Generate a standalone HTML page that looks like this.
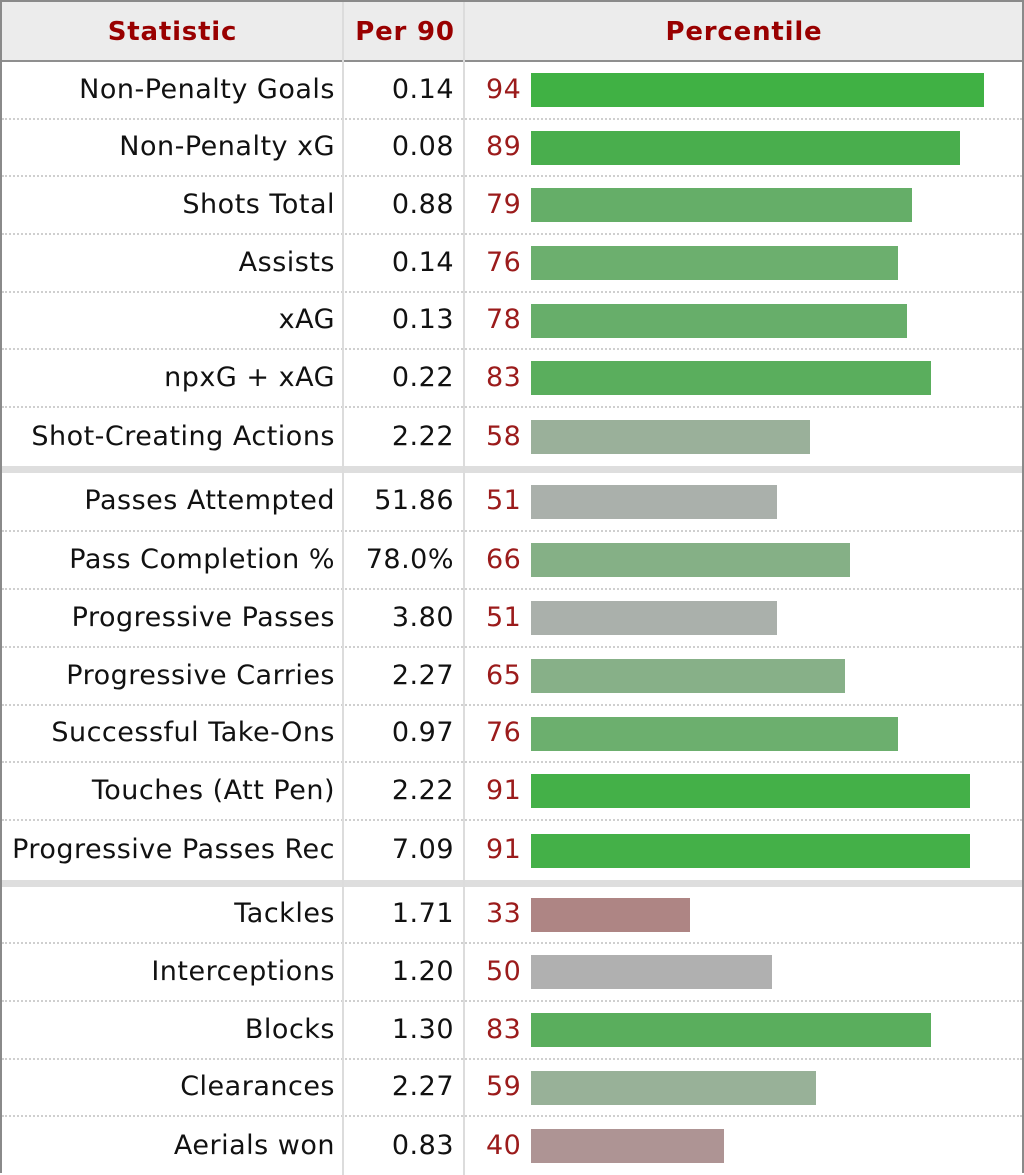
<!DOCTYPE html>
<html><head><meta charset="utf-8"><style>
*{margin:0;padding:0;box-sizing:border-box}
body{width:1024px;height:1173px;background:#fff;font-family:"DejaVu Sans",Verdana,sans-serif;overflow:hidden}
.wrap{position:absolute;left:0;top:0;width:1024px;height:1173px;border:2px solid #8a8a8a;border-bottom:none}
.hdr{position:absolute;left:0;top:0;width:1020px;height:60px;background:#ececec;border-bottom:2px solid #8f8f8f;color:#990000;font-weight:bold;font-size:26px;letter-spacing:0.8px}
.hdr div{position:absolute;top:0;height:58px;line-height:60px;text-align:center}
.vl{position:absolute;top:0;width:2px;height:1173px;background:#dcdcdc}
.row{position:absolute;left:0;width:1020px;border-bottom:2px dotted #cfcfcf;font-size:27px;color:#111;letter-spacing:0.5px}
.row .s{position:absolute;right:687px;top:-1px;height:100%;display:flex;align-items:center;white-space:nowrap}
.row .p{position:absolute;right:568px;top:-1px;height:100%;display:flex;align-items:center}
.row .n{position:absolute;left:484px;top:-1px;height:100%;display:flex;align-items:center;color:#9b1b1b}
.row .b{position:absolute;left:529px;height:34px;top:50%;margin-top:-17px}
.sep{position:absolute;left:0;width:1020px;height:7px;background:#dedede}
</style></head><body>
<div class="wrap">
<div class="hdr"><div style="left:0;width:341px">Statistic</div><div style="left:343px;width:120px">Per 90</div><div style="left:464px;width:556px">Percentile</div></div>

<div class="row" style="top:60px;height:58px"><span class="s">Non-Penalty Goals</span><span class="p">0.14</span><span class="n">94</span><div class="b" style="width:453px;background:#40b144"></div></div>
<div class="row" style="top:118px;height:57px"><span class="s">Non-Penalty xG</span><span class="p">0.08</span><span class="n">89</span><div class="b" style="width:429px;background:#49ae4d"></div></div>
<div class="row" style="top:175px;height:58px"><span class="s">Shots Total</span><span class="p">0.88</span><span class="n">79</span><div class="b" style="width:381px;background:#65ae68"></div></div>
<div class="row" style="top:233px;height:58px"><span class="s">Assists</span><span class="p">0.14</span><span class="n">76</span><div class="b" style="width:367px;background:#6caf6e"></div></div>
<div class="row" style="top:291px;height:57px"><span class="s">xAG</span><span class="p">0.13</span><span class="n">78</span><div class="b" style="width:376px;background:#67ae6a"></div></div>
<div class="row" style="top:348px;height:58px"><span class="s">npxG + xAG</span><span class="p">0.22</span><span class="n">83</span><div class="b" style="width:400px;background:#5aae5d"></div></div>
<div class="row" style="top:406px;height:58px;border-bottom:none"><span class="s">Shot-Creating Actions</span><span class="p">2.22</span><span class="n">58</span><div class="b" style="width:279px;background:#9ab09a"></div></div>
<div class="sep" style="top:464px"></div>

<div class="row" style="top:471px;height:59px"><span class="s">Passes Attempted</span><span class="p">51.86</span><span class="n">51</span><div class="b" style="width:246px;background:#aab0ab"></div></div>
<div class="row" style="top:530px;height:58px"><span class="s">Pass Completion %</span><span class="p">78.0%</span><span class="n">66</span><div class="b" style="width:319px;background:#85b086"></div></div>
<div class="row" style="top:588px;height:58px"><span class="s">Progressive Passes</span><span class="p">3.80</span><span class="n">51</span><div class="b" style="width:246px;background:#aab0ab"></div></div>
<div class="row" style="top:646px;height:58px"><span class="s">Progressive Carries</span><span class="p">2.27</span><span class="n">65</span><div class="b" style="width:314px;background:#87b088"></div></div>
<div class="row" style="top:704px;height:57px"><span class="s">Successful Take-Ons</span><span class="p">0.97</span><span class="n">76</span><div class="b" style="width:367px;background:#6caf6e"></div></div>
<div class="row" style="top:761px;height:58px"><span class="s">Touches (Att Pen)</span><span class="p">2.22</span><span class="n">91</span><div class="b" style="width:439px;background:#44b048"></div></div>
<div class="row" style="top:819px;height:59px;border-bottom:none"><span class="s">Progressive Passes Rec</span><span class="p">7.09</span><span class="n">91</span><div class="b" style="width:439px;background:#44b048"></div></div>
<div class="sep" style="top:878px"></div>

<div class="row" style="top:885px;height:57px"><span class="s">Tackles</span><span class="p">1.71</span><span class="n">33</span><div class="b" style="width:159px;background:#ae8584"></div></div>
<div class="row" style="top:942px;height:58px"><span class="s">Interceptions</span><span class="p">1.20</span><span class="n">50</span><div class="b" style="width:241px;background:#b0b0b0"></div></div>
<div class="row" style="top:1000px;height:58px"><span class="s">Blocks</span><span class="p">1.30</span><span class="n">83</span><div class="b" style="width:400px;background:#5aae5d"></div></div>
<div class="row" style="top:1058px;height:57px"><span class="s">Clearances</span><span class="p">2.27</span><span class="n">59</span><div class="b" style="width:285px;background:#98b198"></div></div>
<div class="row" style="top:1115px;height:58px;border-bottom:none"><span class="s">Aerials won</span><span class="p">0.83</span><span class="n">40</span><div class="b" style="width:193px;background:#ae9494"></div></div>

<div class="vl" style="left:340px"></div>
<div class="vl" style="left:461px"></div>
</div>
</body></html>
